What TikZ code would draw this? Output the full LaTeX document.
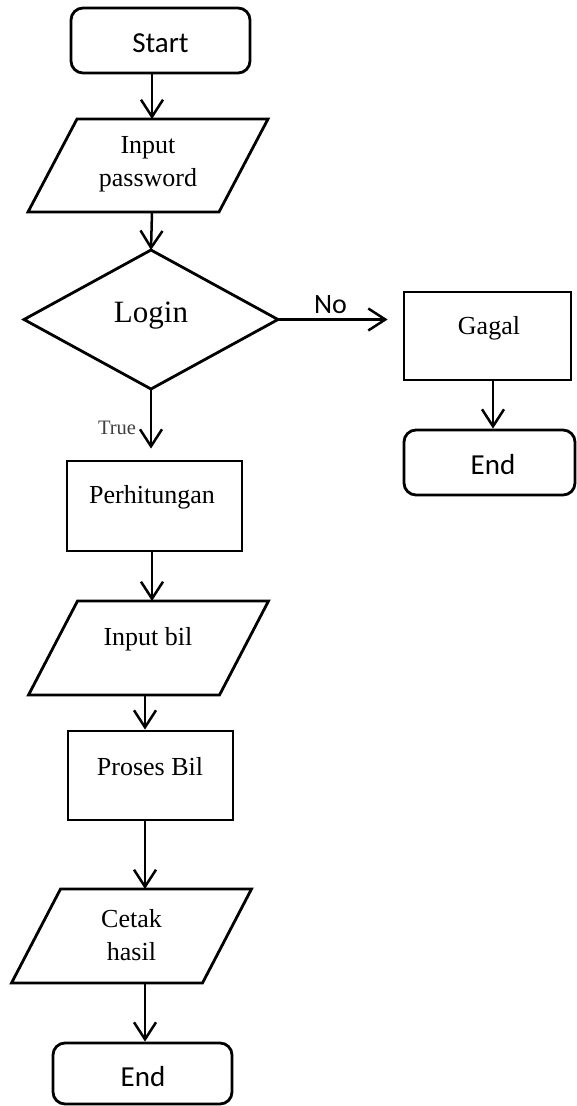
\documentclass[tikz,border=0pt]{standalone}
\usepackage{fontspec}
\setmainfont{Liberation Serif}
\newfontfamily\calib{Carlito}
\usetikzlibrary{arrows.meta}
\definecolor{truegray}{HTML}{404040}

% parallelogram (input/output) drawn on the corners of a sized placeholder node
\newcommand\ioshape[1]{%
  \draw[line] ([xshift=24.5pt]#1.north west) -- ([xshift=24.5pt]#1.north east)
    -- ([xshift=-24.5pt]#1.south east) -- ([xshift=-24.5pt]#1.south west) -- cycle;}

\begin{document}
\begin{tikzpicture}[x=1pt, y=-1pt,
  line/.style={line width=2.8pt, line join=miter},
  arr/.style={line width=2.5pt, -{Straight Barb[length=17pt,width=22pt]}},
  term/.style={draw, line width=2.8pt, rounded corners=12pt, inner sep=0pt,
    font=\calib\fontsize{29}{34}\selectfont},
  proc/.style={draw, line width=2.8pt, inner sep=0pt},
  hold/.style={inner sep=0pt, outer sep=0pt},
  txt/.style={font=\fontsize{26}{33}\selectfont, align=center, inner sep=0pt},
  termtxt/.style={font=\calib\fontsize{29}{34}\selectfont, inner sep=0pt},
]
\useasboundingbox (0,0) rectangle (576,1106);

% connector columns
\coordinate (colA) at (152,0);
\coordinate (colB) at (145,0);

% start
\node[term, minimum width=179pt, minimum height=65pt] (start) at (160.5,40.5) {};
\node[termtxt] (startt) at (160.5,43.5) {Start};

% input password
\node[hold, minimum width=191pt, minimum height=93pt] (pw) at (148,165.5) {};
\ioshape{pw}
\node[txt] (pwt) at (148,164.5) {Input\\password};

% login decision
\node[hold, minimum width=254pt, minimum height=139pt] (login) at (151,319.5) {};
\draw[line] (login.north) -- (login.east) -- (login.south) -- (login.west) -- cycle;
\node[font=\fontsize{31}{36}\selectfont, inner sep=0pt] (logint) at (151,316) {Login};

% failure branch
\node[proc, minimum width=167pt, minimum height=88pt] (gagal) at (487.5,336) {};
\node[txt] (gagalt) at (489,328) {Gagal};
\node[term, minimum width=171pt, minimum height=65pt] (endr) at (489.5,462.5) {};
\node[termtxt] (endrt) at (493,464.5) {End};

% main branch
\node[proc, minimum width=175pt, minimum height=90pt] (perh) at (154.5,506) {};
\node[txt] (perht) at (152,497) {Perhitungan};

\node[hold, minimum width=191pt, minimum height=94pt] (inbil) at (148.5,648) {};
\ioshape{inbil}
\node[txt] (inbilt) at (148,639) {Input bil};

\node[proc, minimum width=165pt, minimum height=89pt] (proses) at (150.5,775.5) {};
\node[txt] (prosest) at (150,767) {Proses Bil};

\node[hold, minimum width=191pt, minimum height=94pt] (cetak) at (131.5,936) {};
\ioshape{cetak}
\node[txt] (cetakt) at (131.5,935) {Cetak\\hasil};

\node[term, minimum width=179pt, minimum height=61pt] (endl) at (142.5,1073.5) {};
\node[termtxt] (endlt) at (143,1077) {End};

% connectors
\draw[arr] (start.south -| colA) -- (pw.north -| colA);
\draw[arr] (pw.south -| colA) -- (login.north);
\draw[arr, shorten >=11pt] (login.south) -- (perh.north -| login.south);
\node[font=\fontsize{20.5}{24}\selectfont, text=truegray, inner sep=0pt] (truet) at (117,428) {True};
\draw[arr, shorten >=15pt] (login.east) -- (login.east -| gagal.west);
\node[font=\calib\fontsize{28}{32}\selectfont, inner sep=0pt] (not) at (330.5,305) {No};
\draw[arr] ([xshift=5.5pt]gagal.south) -- ([xshift=5.5pt]gagal.south |- endr.north);
\draw[arr] (perh.south -| colA) -- (inbil.north -| colA);
\draw[arr] (inbil.south -| colB) -- (proses.north -| colB);
\draw[arr] (proses.south -| colB) -- (cetak.north -| colB);
\draw[arr] (cetak.south -| colB) -- (endl.north -| colB);
\end{tikzpicture}
\end{document}
